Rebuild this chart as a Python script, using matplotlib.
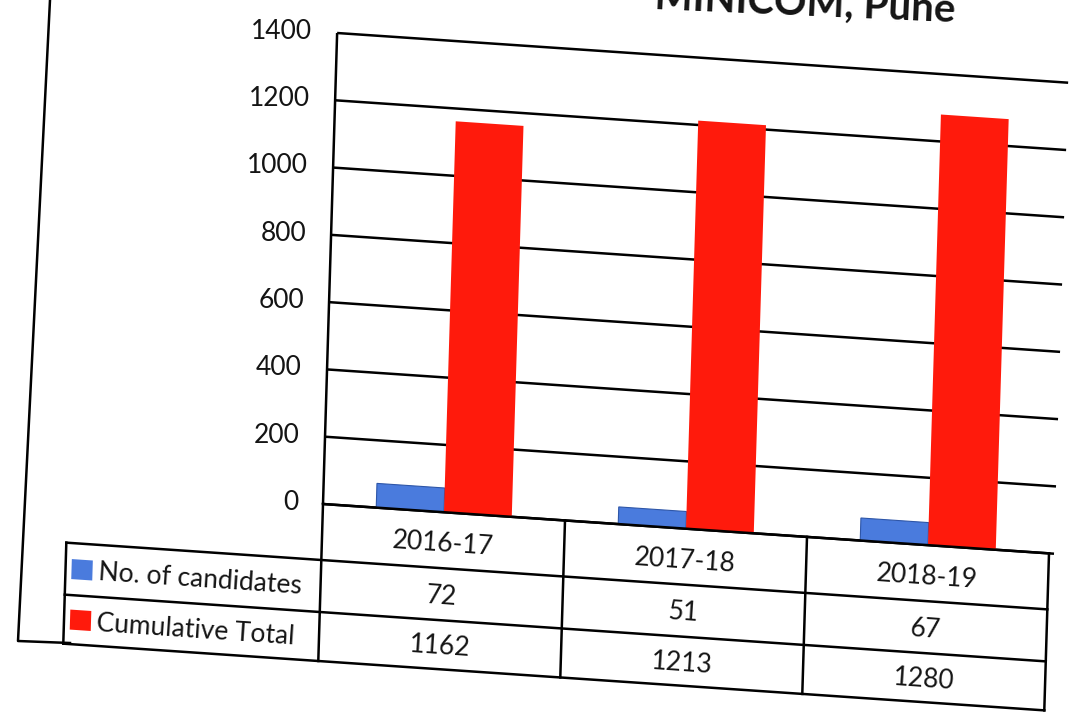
import numpy as np
import matplotlib
matplotlib.use('Agg')
import matplotlib.pyplot as plt
from matplotlib.transforms import Affine2D
from matplotlib.patches import Rectangle
from matplotlib.lines import Line2D

# %% data
years = ['2016-17', '2017-18', '2018-19']
candidates = [72, 51, 67]
cumulative = [1162, 1213, 1280]
series_names = ['No. of candidates', 'Cumulative Total']
yticks = [0, 200, 400, 600, 800, 1000, 1200, 1400]
title = 'MINICOM, Pune'

blue = '#4A7BDD'
red = '#FF1A0C'
ink = '#141414'

plt.rcParams['font.family'] = ['Lato', 'DejaVu Sans']

# %% layout (pixels on the photo)
W, H = 1069, 712
x0, y0 = 323, 504          # value axis origin
cat_px = 242               # one category slot
pw, ph = 3 * cat_px, 471
row_px = [56, 52, 49]      # header row, series rows
legend_px = 255
slope = 0.068              # photo is slanted
lean = 0.03
fs = 19
lw = 1.8

fig = plt.figure(figsize=(W / 100, H / 100), dpi=100)
fig.patch.set_facecolor('white')

ax = fig.add_axes([x0 / W, 1 - y0 / H, pw / W, ph / H])
ax.set_xlim(-0.5, 2.5)
ax.set_ylim(0, 1400)
ax.axis('off')

# shear everything about the axis origin to follow the photo
ox, oy = x0, H - y0
tilt = Affine2D().translate(-ox, -oy).skew(np.arctan(lean), np.arctan(-slope)).translate(ox, oy)
tr = ax.transData + tilt
rot = -np.degrees(np.arctan(slope))

x = np.arange(len(years))
bw = 0.28

# gridlines + axis
ax.hlines(yticks, -0.5, 2.5 + 5 / cat_px, color='black', lw=lw, transform=tr, clip_on=False, zorder=1)
ax.vlines(-0.5, 0, 1400, color='black', lw=lw, transform=tr, clip_on=False, zorder=1)
for v in yticks:
    ax.text(-0.5 - 25 / cat_px, v, str(v), ha='right', va='center', fontsize=fs,
            color=ink, transform=tr)

ax.bar(x - bw / 2, candidates, bw, color=blue, edgecolor='#2E56A8', lw=0.8,
       transform=tr, clip_on=False, zorder=2)
ax.bar(x + bw / 2, cumulative, bw, color=red, lw=0,
       transform=tr, clip_on=False, zorder=2)

# %% data table under the plot
tab_h = sum(row_px)
tab = fig.add_axes([(x0 - legend_px) / W, 1 - (y0 + tab_h) / H, (pw + legend_px) / W, tab_h / H])
xL = -0.5 - legend_px / cat_px
tab.set_xlim(xL, 2.5)
tab.set_ylim(tab_h, 0)
tab.axis('off')
tr2 = tab.transData + tilt

cum = np.cumsum([0] + row_px)
for i, yy in enumerate(cum):
    start = -0.5 if i == 0 else xL
    tab.plot([start, 2.5], [yy, yy], color='black', lw=lw, transform=tr2, clip_on=False)
tab.plot([xL, xL], [cum[1], cum[3]], color='black', lw=lw, transform=tr2, clip_on=False)
for xv in [-0.5, 0.5, 1.5, 2.5]:
    tab.plot([xv, xv], [0, cum[3]], color='black', lw=lw, transform=tr2, clip_on=False)

for i, yr in enumerate(years):
    tab.text(i, (cum[0] + cum[1]) / 2 + 4, yr, ha='center', va='center', rotation=rot,
             rotation_mode='anchor', fontsize=fs, color=ink, transform=tr2)
for r, vals in enumerate([candidates, cumulative]):
    ym = (cum[r + 1] + cum[r + 2]) / 2 + 2
    for i, v in enumerate(vals):
        tab.text(i, ym, str(v), ha='center', va='center', rotation=rot,
                 rotation_mode='anchor', fontsize=fs, color=ink, transform=tr2)
    tab.add_patch(Rectangle((xL + 6 / cat_px, ym - 12), 21 / cat_px, 20, facecolor=[blue, red][r],
                            lw=0, transform=tr2, clip_on=False))
    tab.text(xL + 33 / cat_px, ym, series_names[r], ha='left', va='center', rotation=rot,
             rotation_mode='anchor', fontsize=fs, color=ink, transform=tr2)

# chart area border and (cut off) title
fig.add_artist(Line2D([50 / W, 18 / W, 70 / W], [1, 1 - 641 / H, 1 - 643 / H],
                      transform=fig.transFigure, color='black', lw=lw))
fig.text(955 / W, 1 - 21 / H, title, ha='right', va='baseline', rotation=-2.5,
         rotation_mode='anchor', fontsize=29, fontweight='bold', color=ink)

fig.savefig('out.png', dpi=100)
